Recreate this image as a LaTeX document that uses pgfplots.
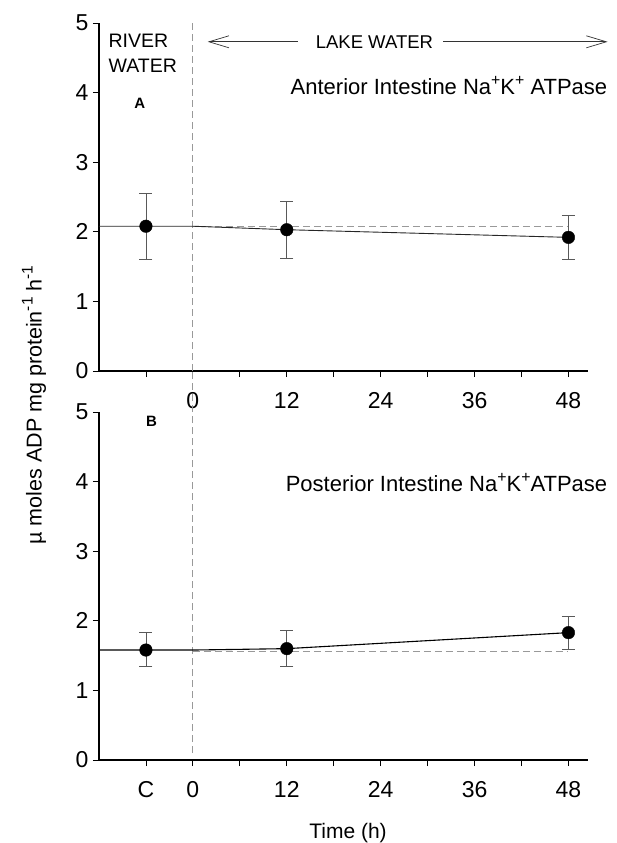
\documentclass[border=0pt]{standalone}
\usepackage{fontspec}
\setmainfont{Liberation Sans}
\usepackage{pgfplots}
\pgfplotsset{compat=1.18}
\usetikzlibrary{arrows.meta}
\definecolor{ebar}{gray}{0.35}
\definecolor{dgray}{gray}{0.6}
\newcommand\sups[1]{\raisebox{0.42em}{\scalebox{0.72}{#1}}}
\pgfplotsset{mystyle/.style={
  scale only axis, width=489pt, height=348pt,
  xmin=-12, xmax=50.5, ymin=0, ymax=5,
  axis lines*=left, tick align=outside,
  major tick length=6pt, minor tick length=6pt,
  ytick={0,1,2,3,4,5},
  xtick={-6,0,12,24,36,48}, minor xtick={6,18,30,42},
  tick style={black, line width=0.8pt},
  axis line style={line width=1.1pt},
  ticklabel style={font=\fontsize{23}{26}\selectfont},
  xticklabel style={yshift=-12pt},
  yticklabel style={xshift=-1pt},
  /pgf/number format/assume math mode=true,
  clip=false,
}}
\pgfplotsset{ebars/.style={
  error bars/.cd, y dir=both, y explicit,
  error bar style={ebar, line width=0.8pt},
  error mark options={rotate=90, mark size=6.5pt, ebar, line width=0.8pt}
}}
\begin{document}
\begin{tikzpicture}
% ---------------- top panel
\begin{axis}[mystyle, xticklabels={,0,12,24,36,48}]
\addplot[dgray, line width=0.9pt, dash pattern=on 7pt off 4pt] coordinates {(0,0) (0,5)};
\addplot[dgray, line width=0.9pt, dash pattern=on 7pt off 4pt] coordinates {(0,2.08) (48,2.08)};
\addplot[black!85, line width=0.9pt] coordinates {(-12,2.08) (0,2.08) (12,2.03) (48,1.92)};
\addplot[only marks, mark=*, mark size=6.3pt, black, ebars] coordinates {
  (-6,2.08) += (0,0.47) -= (0,0.48)
  (12,2.03) += (0,0.40) -= (0,0.41)
  (48,1.92) += (0,0.31) -= (0,0.31)
};
\node[anchor=north west, align=left, inner sep=0pt, font=\fontsize{19.5}{25}\selectfont] at (axis cs:-10.8,4.84) {RIVER\\WATER};
\node[font=\fontsize{15}{17}\selectfont\bfseries] at (axis cs:-6.8,3.85) {A};
\node[font=\fontsize{18.5}{21}\selectfont] at (axis cs:23.2,4.73) {LAKE WATER};
\addplot[black!80, line width=0.7pt, -{Straight Barb[length=20pt,width=12pt]}] coordinates {(13.4,4.73) (1.9,4.73)};
\addplot[black!80, line width=0.7pt, -{Straight Barb[length=20pt,width=12pt]}] coordinates {(32.0,4.73) (53.0,4.73)};
\node[anchor=east, font=\fontsize{22}{26}\selectfont] at (axis cs:53.4,4.10) {Anterior Intestine Na\sups{+}K\sups{+} ATPase};
\end{axis}
% ---------------- bottom panel
\begin{axis}[mystyle, at={(0pt,-389pt)}, xticklabels={C,0,12,24,36,48}]
\addplot[dgray, line width=0.9pt, dash pattern=on 7pt off 4pt] coordinates {(0,0.1) (0,5.6)};
\addplot[dgray, line width=0.9pt, dash pattern=on 7pt off 4pt] coordinates {(0,1.56) (48,1.56)};
\addplot[black, line width=1.1pt] coordinates {(-12,1.58) (0,1.58) (12,1.60) (48,1.83)};
\addplot[only marks, mark=*, mark size=6.3pt, black, ebars] coordinates {
  (-6,1.58) += (0,0.25) -= (0,0.23)
  (12,1.60) += (0,0.26) -= (0,0.25)
  (48,1.83) += (0,0.24) -= (0,0.24)
};
\node[font=\fontsize{15}{17}\selectfont\bfseries] at (axis cs:-5.3,4.86) {B};
\node[anchor=east, font=\fontsize{22}{26}\selectfont] at (axis cs:53.4,3.99) {Posterior Intestine Na\sups{+}K\sups{+}ATPase};
\end{axis}
\node[rotate=90, font=\fontsize{21.5}{25}\selectfont] at (-65pt,-34pt) {µ moles ADP mg protein\sups{-1} h\sups{-1}};
\node[font=\fontsize{21}{25}\selectfont] at (249pt,-462pt) {Time (h)};
\pgfresetboundingbox
\path[use as bounding box] (-99pt,-472pt) rectangle (517pt,371pt);
\end{tikzpicture}
\end{document}
